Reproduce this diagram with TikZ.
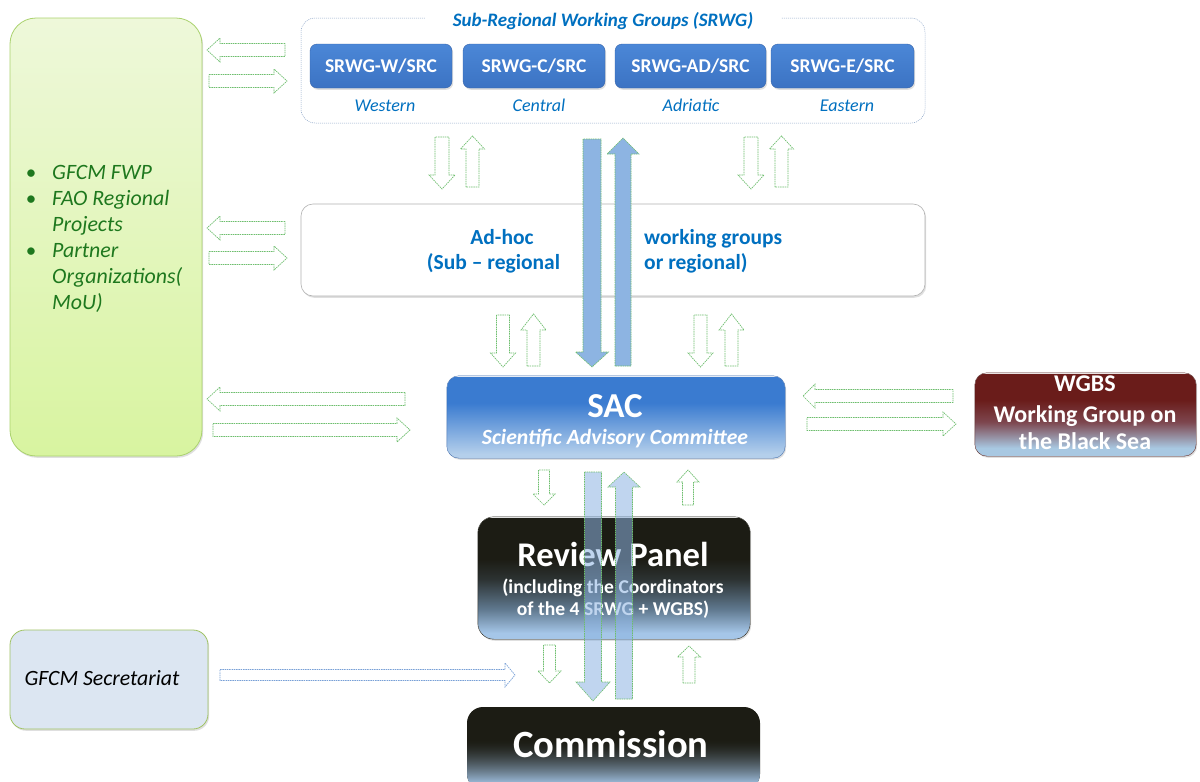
\documentclass[tikz,border=0pt]{standalone}
\usepackage{fontspec}
\setmainfont{Carlito}
\usetikzlibrary{shadows}
\definecolor{tblue}{RGB}{0,112,192}
\definecolor{tgreen}{RGB}{30,120,30}
\definecolor{agreen}{RGB}{110,190,110}
\definecolor{thickc}{RGB}{141,180,226}
\definecolor{bdot}{RGB}{120,160,215}
\definecolor{outl}{RGB}{140,165,200}
\definecolor{gbT}{RGB}{238,248,218}
\definecolor{gbB}{RGB}{216,244,160}
\definecolor{gbD}{RGB}{170,210,110}
\definecolor{srT}{RGB}{75,135,215}
\definecolor{srB}{RGB}{60,115,195}
\definecolor{srD}{RGB}{55,100,170}
\definecolor{sacT}{RGB}{58,123,208}
\definecolor{sacB}{RGB}{180,207,235}
\definecolor{sacD}{RGB}{50,100,170}
\definecolor{wgT}{RGB}{106,28,26}
\definecolor{wgM}{RGB}{125,70,78}
\definecolor{wgB}{RGB}{168,200,226}
\definecolor{wgD}{RGB}{80,30,30}
\definecolor{rpT}{RGB}{28,28,20}
\definecolor{rpT2}{RGB}{44,50,50}
\definecolor{rpM}{RGB}{95,120,142}
\definecolor{rpB}{RGB}{165,198,232}
\definecolor{secF}{RGB}{220,230,242}
\definecolor{secD}{RGB}{160,195,100}
\pgfdeclareverticalshading{sacsh}{338pt}{color(0pt)=(sacB); color(4pt)=(sacB); color(55pt)=(sacT); color(82pt)=(sacT)}
\pgfdeclareverticalshading{wgsh}{221pt}{color(0pt)=(wgB); color(8pt)=(wgB); color(34pt)=(wgM); color(56pt)=(wgT); color(83pt)=(wgT)}
\pgfdeclareverticalshading{rpsh}{272pt}{color(0pt)=(rpB); color(6pt)=(rpB); color(30pt)=(rpM); color(60pt)=(rpT2); color(80pt)=(rpT); color(122pt)=(rpT)}
\newcommand\Fz[1]{\fontsize{#1}{#1}\selectfont}
% [style]{y}{tail}{base}{tip}{half shaft}{half head}
\newcommand\HArr[7][]{\draw[#1] (#3,{#2-#6}) -- (#4,{#2-#6}) -- (#4,{#2-#7}) -- (#5,#2) -- (#4,{#2+#7}) -- (#4,{#2+#6}) -- (#3,{#2+#6}) -- cycle;}
% [style]{x}{tail}{base}{tip}{half shaft}{half head}
\newcommand\VArr[7][]{\draw[#1] ({#2-#6},#3) -- ({#2-#6},#4) -- ({#2-#7},#4) -- (#2,#5) -- ({#2+#7},#4) -- ({#2+#6},#4) -- ({#2+#6},#3) -- cycle;}
% {name}{cx}{cy}{w}{h}{radius}{shading}{border}
\newcommand\ShadeBox[8]{%
  \node[rounded corners=#6, fill=white, minimum width=#4pt, minimum height=#5pt, shad] (#1) at (#2,#3) {};
  \begin{scope}
    \clip[rounded corners=#6] ({#2-#4/2},{#3-#5/2}) rectangle ({#2+#4/2},{#3+#5/2});
    \node[inner sep=0pt] (#1s) at (#2,#3) {\pgfuseshading{#7}};
  \end{scope}
  \draw[draw=#8, line width=0.4pt, rounded corners=#6] (#1.north west) rectangle (#1.south east);}
\begin{document}
\begin{tikzpicture}[x=1pt,y=-1pt,
  every node/.style={inner sep=0pt},
  garrow/.style={draw=agreen, fill=white, line width=0.7pt, dash pattern=on 1.5pt off 0.8pt},
  barrow/.style={draw=agreen, fill=thickc, line width=0.6pt, dash pattern=on 1.5pt off 0.8pt},
  lbarrow/.style={barrow, fill opacity=0.55},
  bluearrow/.style={draw=bdot, fill=white, line width=0.7pt, dash pattern=on 1.5pt off 0.8pt},
  shad/.style={drop shadow={opacity=0.25, shadow xshift=1.2pt, shadow yshift=-1.8pt}},
  srbox/.style={rounded corners=7pt, draw=srD, line width=0.4pt, top color=srT, bottom color=srB,
     minimum height=44pt, text=white, font=\Fz{19.5}\bfseries, shad},
  lab/.style={anchor=base, text=tblue, font=\Fz{18}\itshape},
  adt/.style={text=tblue, font=\Fz{21.5}\bfseries},
  ltxt/.style={anchor=base west, text=tgreen, font=\Fz{21.9}\itshape},
  bul/.style={anchor=base, text=tgreen, font=\Fz{21}},
  wt/.style={anchor=base, text=white},
]
\useasboundingbox (0,0) rectangle (1200,782);
\clip (0,0) rectangle (1200,782);
\fill[white] (0,0) rectangle (1200,782);

% left partner box
\node[rounded corners=26pt, draw=gbD, line width=0.8pt, top color=gbT, bottom color=gbB,
      minimum width=192pt, minimum height=438pt, shad] (partners) at (106,237) {};
\node[bul] (b1) at (31,179) {\textbullet};
\node[ltxt] (p1) at (52,179) {GFCM FWP};
\node[bul] (b2) at (31,205) {\textbullet};
\node[ltxt] (p2) at (52,205) {FAO Regional};
\node[ltxt] (p3) at (52,231) {Projects};
\node[bul] (b3) at (31,257) {\textbullet};
\node[ltxt] (p4) at (52,257) {Partner};
\node[ltxt] (p5) at (52,283) {Organizations(};
\node[ltxt] (p6) at (52,309) {MoU)};

% SRWG group
\node[draw=outl, line width=0.5pt, dash pattern=on 1pt off 1pt, rounded corners=14pt,
      minimum width=624pt, minimum height=105pt] (srwg) at (613,70.5) {};
\node[fill=white, inner xsep=28pt, inner ysep=1pt, anchor=base, text=tblue, font=\Fz{19}\bfseries\itshape]
      (srwgt) at (603,26) {Sub-Regional Working Groups (SRWG)};
\node[srbox, minimum width=142pt] (sw) at (381,66) {SRWG-W/SRC};
\node[srbox, minimum width=142pt] (sc) at (534,66) {SRWG-C/SRC};
\node[srbox, minimum width=151pt] (sad) at (690.5,66) {SRWG-AD/SRC};
\node[srbox, minimum width=143pt] (se) at (842.5,66) {SRWG-E/SRC};
\node[lab] (lw) at (385,111) {Western};
\node[lab] (lc) at (539,111) {Central};
\node[lab] (lad) at (691,111) {Adriatic};
\node[lab] (le) at (847,111) {Eastern};

% Ad-hoc box
\node[draw=black!30, line width=0.6pt, fill=white, rounded corners=12pt,
      minimum width=624pt, minimum height=92pt, shad] (adhoc) at (613,250) {};
\node[adt, anchor=base] (a1) at (502,244) {Ad-hoc};
\node[adt, anchor=base] (a2) at (493.5,269) {(Sub -- regional};
\node[adt, anchor=base west] (a3) at (644,244) {working groups};
\node[adt, anchor=base west] (a4) at (644,269) {or regional)};

% SAC
\ShadeBox{sac}{616}{417}{338}{82}{12pt}{sacsh}{sacD}
\node[wt, font=\Fz{35}\bfseries] (sac1) at (615,417) {SAC};
\node[wt, font=\Fz{21.7}\bfseries\itshape] (sac2) at (615,444) {Scientific Advisory Committee};

% WGBS
\ShadeBox{wgbs}{1085.5}{414.5}{221}{83}{12pt}{wgsh}{wgD}
\node[wt, font=\Fz{24}\bfseries] (w1) at (1085,391) {WGBS};
\node[wt, font=\Fz{24}\bfseries] (w2) at (1085,422) {Working Group on};
\node[wt, font=\Fz{24}\bfseries] (w3) at (1085,449) {the Black Sea};

% Review panel
\ShadeBox{rp}{614}{578}{272}{122}{16pt}{rpsh}{rpT}
\node[wt, font=\Fz{34.6}\bfseries] (r1) at (613,566) {Review Panel};
\node[wt, font=\Fz{19.6}\bfseries] (r2) at (613,593) {(including the Coordinators};
\node[wt, font=\Fz{19.6}\bfseries] (r3) at (613,615) {of the 4 SRWG + WGBS)};

% Commission (gradient built from thin bands)
\node[rounded corners=16pt, fill=rpT, minimum width=293pt, minimum height=83pt] (com) at (613.5,748.5) {};
\begin{scope}
  \clip[rounded corners=16pt] (467,707) rectangle (760,790);
  \foreach \yy in {740,...,790} {
    \pgfmathsetmacro\pp{min(100,100*(max(0,(\yy-740)/45))^1.5)}
    \fill[rpB!\pp!rpT] (466,\yy) rectangle (761,\yy+1.3);
  }
\end{scope}
\node[wt, font=\Fz{38.6}\bfseries] (c1) at (611,757) {Commission};

% GFCM Secretariat
\node[rounded corners=15pt, draw=secD, line width=0.8pt, fill=secF,
      minimum width=198pt, minimum height=99pt, shad] (sec) at (109,679.5) {};
\node[anchor=base, font=\Fz{21.8}\itshape] (s1) at (102,685) {GFCM Secretariat};

% horizontal green arrows (left)
\HArr[garrow]{50}{285}{220}{207}{6.5}{12}
\HArr[garrow]{81}{209}{274}{287}{6.5}{12}
\HArr[garrow]{228}{285}{220}{207}{6.5}{12}
\HArr[garrow]{258}{209}{274}{287}{6.5}{12}
\HArr[garrow]{399}{405}{220}{207}{6.5}{12}
\HArr[garrow]{430}{213}{397}{410}{6.5}{12}
% horizontal green arrows (right)
\HArr[garrow]{396}{953}{815}{803}{6.5}{12}
\HArr[garrow]{424}{807}{943}{956}{6.5}{12}

% vertical small arrows
\VArr[garrow]{442}{137}{175}{189}{7}{13}
\VArr[garrow]{472.5}{187}{149}{136}{6.5}{12}
\VArr[garrow]{751}{137}{175}{189}{7}{13}
\VArr[garrow]{781.5}{187}{149}{136}{6.5}{12}
\VArr[garrow]{503}{315}{353}{367}{6.5}{12.5}
\VArr[garrow]{533.5}{366}{330}{314}{6.5}{12.5}
\VArr[garrow]{700.5}{315}{353}{367}{6.5}{12.5}
\VArr[garrow]{731.5}{366}{330}{314}{6.5}{12.5}
\VArr[garrow]{544}{470}{494}{505}{5.5}{11}
\VArr[garrow]{688}{505}{482}{470}{5.5}{11}
\VArr[garrow]{549.5}{645}{671}{683}{6}{11.5}
\VArr[garrow]{689}{683}{657}{646}{6}{11.5}

% thick blue arrows
\VArr[barrow]{592}{139}{352}{367}{9}{16.5}
\VArr[barrow]{623}{366}{154}{138}{8}{16}
\VArr[lbarrow]{593}{472}{682}{701}{8.5}{17}
\VArr[lbarrow]{624}{699}{487}{472}{8.5}{16}

% blue dotted arrow from secretariat
\HArr[bluearrow]{675}{220}{505}{515}{5.5}{12}
\end{tikzpicture}
\end{document}
